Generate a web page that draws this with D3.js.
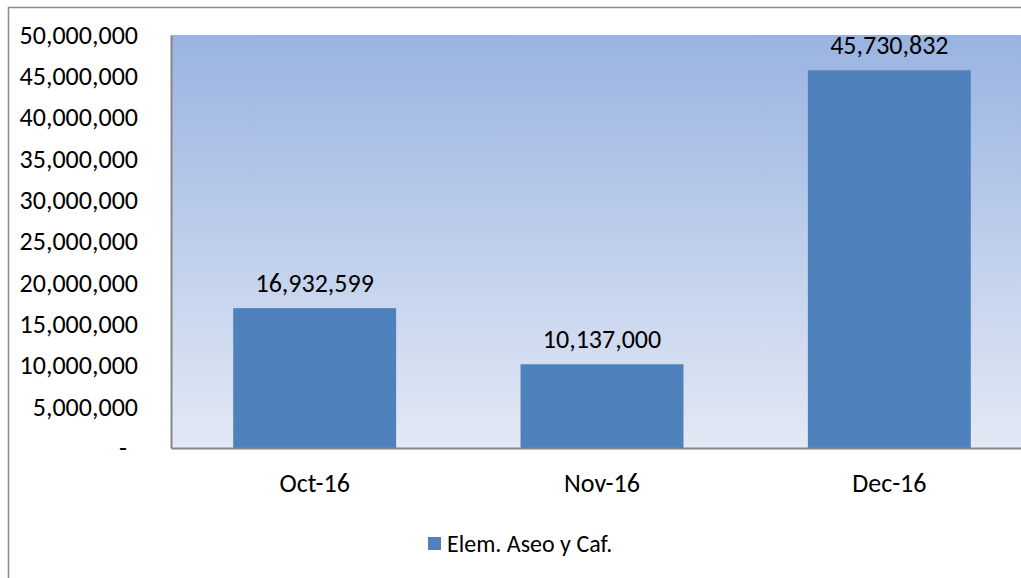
<!DOCTYPE html>
<html><head><meta charset="utf-8">
<script src="https://cdn.jsdelivr.net/npm/d3@7"></script>
<style>body{margin:0;background:#fff;}svg{display:block;}text{font-family:Carlito,Lato,"Open Sans",sans-serif;fill:#000;}</style>
</head><body>
<svg id="c" width="1021" height="578"></svg>
<script>
const categories = ["Oct-16", "Nov-16", "Dec-16"];
const values = [16932599, 10137000, 45730832];
const seriesName = "Elem. Aseo y Caf.";
const yTicks = [0, 5000000, 10000000, 15000000, 20000000, 25000000, 30000000, 35000000, 40000000, 45000000, 50000000];

const svg = d3.select("#c");
const W = 1021, H = 578;
const plot = {left: 171, top: 35, bottom: 448, right: 1033};
const FF = "Carlito,Lato,'Open Sans',sans-serif";

// outer chart border
svg.append("path").attr("d", `M8.5,${H+2} V7.5 H${W+2}`).attr("fill","none").attr("stroke","#8c8c8c").attr("stroke-width",1.5);

const defs = svg.append("defs");
const g = defs.append("linearGradient").attr("id","bg").attr("x1",0).attr("y1",0).attr("x2",0).attr("y2",1);
g.append("stop").attr("offset","0%").attr("stop-color","#99b3e1");
g.append("stop").attr("offset","100%").attr("stop-color","#e3e9f5");

svg.append("rect").attr("x",plot.left).attr("y",plot.top).attr("width",plot.right-plot.left).attr("height",plot.bottom-plot.top).attr("fill","url(#bg)");

const x = d3.scaleBand().domain(categories).range([plot.left, plot.right]).paddingInner(0.433).paddingOuter(0.2165);
const y = d3.scaleLinear().domain([0, 50000000]).range([plot.bottom, plot.top]);
const fmt = d3.format(",");

svg.selectAll("rect.bar").data(values).enter().append("rect").attr("class","bar")
  .attr("x",(d,i)=>x(categories[i])).attr("y",d=>y(d)).attr("width",x.bandwidth()).attr("height",d=>y(0)-y(d))
  .attr("fill","#4f81bd");

svg.selectAll("text.lbl").data(values).enter().append("text").attr("class","lbl")
  .attr("x",(d,i)=>x(categories[i])+x.bandwidth()/2).attr("y",d=>y(d)-16)
  .attr("text-anchor","middle").attr("font-size",26).text(d=>fmt(d));

// y axis
const ya = svg.append("g").attr("transform",`translate(${plot.left},0)`)
  .call(d3.axisLeft(y).tickValues(yTicks).tickSize(0).tickPadding(33).tickFormat(d=>d===0?"-":fmt(d)));
ya.select(".domain").attr("stroke","#868686").attr("stroke-width",2);
ya.selectAll("text").attr("font-size",26).attr("font-family",FF).attr("fill","#000");
ya.selectAll(".tick").filter(d=>d===0).select("text").attr("dx",-11);

// x axis
const xa = svg.append("g").attr("transform",`translate(0,${plot.bottom})`)
  .call(d3.axisBottom(x).tickSize(0).tickPadding(26));
xa.select(".domain").attr("stroke","#868686").attr("stroke-width",2);
xa.selectAll("text").attr("font-size",26).attr("font-family",FF).attr("fill","#000");

// legend
const lg = svg.append("g").attr("transform","translate(428,537)");
lg.append("rect").attr("width",13).attr("height",13).attr("fill","#4f81bd");
lg.append("text").attr("x",19).attr("y",7).attr("dy","0.35em").attr("font-size",24).text(seriesName);
</script>
</body></html>
